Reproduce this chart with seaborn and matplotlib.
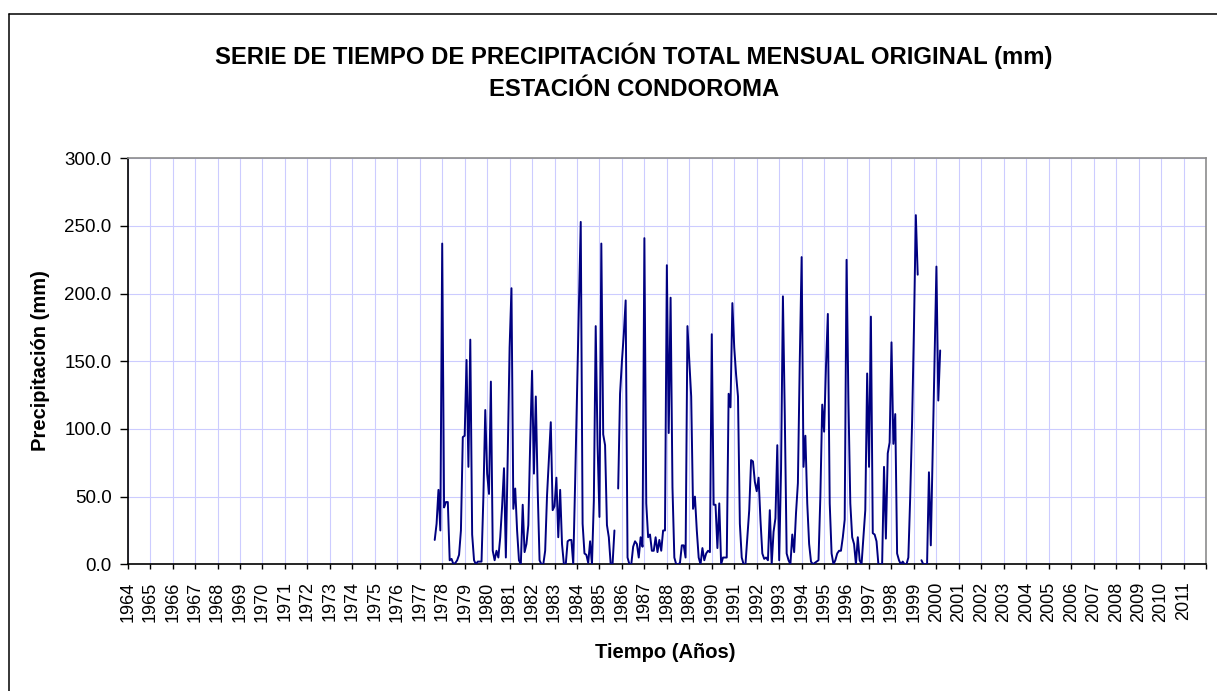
import numpy as np
import pandas as pd
import matplotlib
matplotlib.use("Agg")
import matplotlib.pyplot as plt
from matplotlib.lines import Line2D
import seaborn as sns

nan = np.nan

# Monthly total precipitation (mm), January..December, Condoroma station
y1977 = [nan, nan, nan, nan, nan, nan, nan, nan, 18, 30, 55, 25]
y1978 = [237, 42, 46, 46, 3, 4, 0, 1, 3, 7, 25, 94]
y1979 = [95, 151, 72, 166, 22, 3, 0, 2, 2, 2, 50, 114]
y1980 = [67, 52, 135, 10, 3, 10, 5, 20, 43, 71, 5, 80]
y1981 = [160, 204, 41, 56, 25, 3, 0, 44, 9, 15, 29, 90]
y1982 = [143, 67, 124, 55, 3, 0, 0, 10, 51, 78, 105, 40]
y1983 = [43, 64, 20, 55, 15, 0, 0, 17, 18, 18, 0, 60]
y1984 = [125, 190, 253, 30, 8, 7, 1, 17, 0, 47, 176, 88]
y1985 = [35, 237, 96, 88, 29, 20, 0, 0, 25, nan, 56, 126]
y1986 = [150, 170, 195, 5, 0, 0, 13, 17, 15, 5, 20, 13]
y1987 = [241, 45, 20, 22, 10, 10, 20, 9, 18, 10, 25, 25]
y1988 = [221, 97, 197, 57, 5, 0, 0, 1, 14, 14, 5, 176]
y1989 = [150, 124, 41, 50, 25, 5, 0, 12, 3, 8, 10, 9]
y1990 = [170, 44, 44, 12, 45, 0, 5, 5, 5, 126, 116, 193]
y1991 = [160, 140, 124, 30, 5, 0, 0, 20, 40, 77, 76, 61]
y1992 = [54, 64, 33, 8, 4, 5, 3, 40, 0, 24, 34, 88]
y1993 = [3, 70, 198, 110, 8, 3, 0, 22, 9, 38, 60, 150]
y1994 = [227, 72, 95, 45, 15, 2, 0, 1, 2, 3, 50, 118]
y1995 = [98, 146, 185, 45, 8, 0, 3, 8, 10, 10, 20, 33]
y1996 = [225, 120, 45, 20, 15, 0, 20, 3, 0, 20, 40, 141]
y1997 = [72, 183, 23, 22, 17, 0, 0, 0, 72, 19, 82, 90]
y1998 = [164, 89, 111, 8, 3, 0, 2, 0, 0, 5, 50, 105]
y1999 = [175, 258, 214, nan, 3, 0, 0, 0, 68, 14, 83, 151]
y2000 = [220, 121, 158, nan, nan, nan, nan, nan, nan, nan, nan, nan]

record_years = list(range(1977, 2001))
monthly = [y1977, y1978, y1979, y1980, y1981, y1982, y1983, y1984,
           y1985, y1986, y1987, y1988, y1989, y1990, y1991, y1992,
           y1993, y1994, y1995, y1996, y1997, y1998, y1999, y2000]

axis_years = list(range(1964, 2012))
y_ticks = [0, 50, 100, 150, 200, 250, 300]

title_1 = "SERIE DE TIEMPO DE PRECIPITACIÓN TOTAL MENSUAL ORIGINAL (mm)"
title_2 = "ESTACIÓN CONDOROMA"

# one row per month, time as decimal year (January on the year line)
rows = []
for yr, vals in zip(record_years, monthly):
    for m, v in enumerate(vals):
        rows.append((yr + m / 12.0, v))
df = pd.DataFrame(rows, columns=["tiempo", "pp"])
# missing months break the line into separate runs
df["tramo"] = df["pp"].isna().cumsum()
df = df.dropna().reset_index(drop=True)

sns.set_theme(style="white")
plt.rcParams["font.family"] = ["Liberation Sans", "DejaVu Sans"]

W, H = 1217, 691
fig = plt.figure(figsize=(W / 100, H / 100), dpi=100)
left, right, top, bottom = 127.7, 1206.0, 158.3, 564.3
ax = fig.add_axes([left / W, 1 - bottom / H, (right - left) / W, (bottom - top) / H])

sns.lineplot(data=df, x="tiempo", y="pp", units="tramo", estimator=None,
             color="#000080", linewidth=1.4, ax=ax, zorder=3)

ax.set_xlim(1964, 2012)
ax.set_ylim(0, 300)
ax.set_xticks(list(range(1964, 2013)))
ax.set_xticklabels([str(y) for y in axis_years] + [""], rotation=90)
ax.set_yticks(y_ticks)
ax.set_yticklabels([f"{v:.1f}" for v in y_ticks])

ax.set_axisbelow(True)
ax.grid(True, color="#CCCCFF", linewidth=0.8)

ax.tick_params(axis="x", bottom=True, direction="out", length=3.3, width=1.0,
               pad=9, labelsize=13, colors="black")
ax.tick_params(axis="y", left=True, direction="out", length=5.5, width=1.0,
               pad=6, labelsize=13.5, colors="black")

for side in ("left", "bottom"):
    ax.spines[side].set_color("black")
    ax.spines[side].set_linewidth(1.2)
for side in ("top", "right"):
    ax.spines[side].set_color("#8C8C8C")
    ax.spines[side].set_linewidth(1.2)

ax.set_xlabel("Tiempo (Años)", fontsize=14.5, fontweight="bold", color="black")
ax.xaxis.set_label_coords((665 - left) / (right - left), (bottom - 653) / (bottom - top))
ax.xaxis.label.set_va("center")
ax.set_ylabel("Precipitación (mm)", fontsize=14.5, fontweight="bold", color="black")
ax.yaxis.set_label_coords((40 - left) / (right - left), (bottom - 361) / (bottom - top))
ax.yaxis.label.set_va("center")

fig.text(634 / W, 1 - 56 / H, title_1, ha="center", va="center",
         fontsize=17.2, fontweight="bold", color="black")
fig.text(634 / W, 1 - 90 / H, title_2, ha="center", va="center",
         fontsize=17.2, fontweight="bold", color="black")

# chart-area frame
fig.add_artist(Line2D([8.5 / W, 8.5 / W], [0, 1 - 13.5 / H], transform=fig.transFigure,
                      color="black", linewidth=1.1))
fig.add_artist(Line2D([8.5 / W, 1], [1 - 13.5 / H, 1 - 13.5 / H], transform=fig.transFigure,
                      color="black", linewidth=1.1))

fig.savefig("out.png", dpi=100)
